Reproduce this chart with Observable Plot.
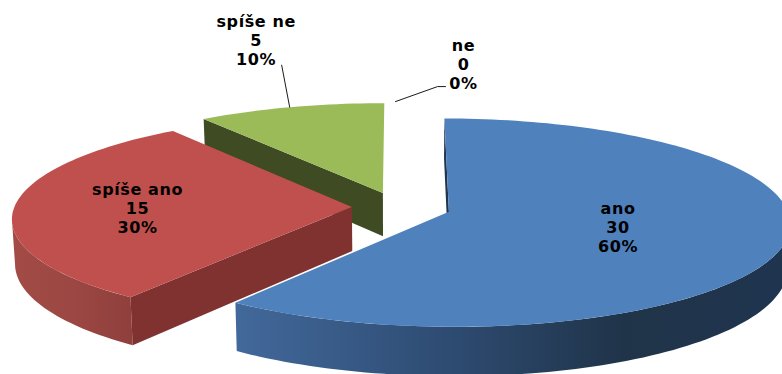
<!DOCTYPE html>
<html>
<head>
<meta charset="utf-8">
<script src="https://cdn.jsdelivr.net/npm/d3@7"></script>
<script src="https://cdn.jsdelivr.net/npm/@observablehq/plot@0.6"></script>
<style>
  html, body { margin: 0; padding: 0; background: #fff; overflow: hidden; }
  svg { display: block; }
</style>
</head>
<body>
<div id="chart"></div>
<script>
// Survey answers, clockwise from twelve o'clock
const categories = ["ano", "spíše ano", "spíše ne", "ne"];
const counts = [30, 15, 5, 0];

const W = 782, H = 374;
const centerX = 401, centerY = 206.5;   // pie centre in pixels
const radiusX = 337.5, radiusY = 102;   // pixels per plane unit
const tilt = 0.105;                     // perspective strength
const explode = 0.147;                  // slice offset in plane units
const depth = 44 / radiusY;             // extrusion in chart units
const lean = 0.992;                     // lower rim draws in towards the centre
const sliceShift = [0, 0, -3.5, 0];     // sideways pixel shift per slice

const total = d3.sum(counts);
let running = 0;
const slices = categories.map((name, i) => {
  const a0 = running / total * 360;
  running += counts[i];
  const a1 = running / total * 360;
  return {name, count: counts[i], pct: counts[i] / total, a0, a1, mid: (a0 + a1) / 2, shift: sliceShift[i] / radiusX};
});

// Project a point of the pie plane: angle in degrees clockwise from the top,
// r in radii from the slice apex. lower = true gives the underside.
function project(s, angle, r, lower = false) {
  const rad = angle * Math.PI / 180, mid = s.mid * Math.PI / 180;
  const X = explode * Math.sin(mid) + r * Math.sin(rad);
  const Z = explode * Math.cos(mid) + r * Math.cos(rad);
  const p = 1 / (1 + tilt * Z);
  return lower
    ? {x: X * p * lean + s.shift, y: Z * p - depth * p}
    : {x: X * p + s.shift, y: Z * p};
}

const arc = (s, from, to, lower) => {
  const n = Math.max(1, Math.ceil(Math.abs(to - from) / 1.5));
  return d3.range(n + 1).map(i => project(s, from + (to - from) * i / n, 1, lower));
};
const topFace = s => [project(s, 0, 0), ...arc(s, s.a0, s.a1, false)];
const radialWall = (s, a) => [
  project(s, a, 0), project(s, a, 1), project(s, a, 1, true), project(s, a, 0, true)
];

// The outer wall runs along the front of the rim only, ending at the slice's
// silhouette so its edge drops straight from the top face to the underside.
const rimWall = (s, from, to) => [...arc(s, from, to, false), ...arc(s, to, from, true)];
const angles = s => d3.range(s.a0, s.a1 + 1);
const leftmost = s => d3.least(angles(s), a => project(s, a, 1).x);
const rightmost = s => d3.greatest(angles(s), a => project(s, a, 1).x);

const face = (points, fill) => Plot.line(points, {x: "x", y: "y", fill, stroke: "none", curve: "linear"});

const [blue, red, green, none] = slices;

// Horizontal shading for the outer walls
function gradient(id, stops) {
  return `<linearGradient id="${id}" x1="0" x2="1" y1="0" y2="0">` +
    stops.map(([o, c]) => `<stop offset="${o}" stop-color="${c}"/>`).join("") +
    `</linearGradient>`;
}
const defs = () => {
  const g = document.createElementNS("http://www.w3.org/2000/svg", "defs");
  g.innerHTML =
    gradient("blueRim", [[0, "#42699b"], [0.4, "#2d4a70"], [0.7, "#203449"], [1, "#1f344f"]]) +
    gradient("redRim", [[0, "#a24b47"], [0.5, "#9c4743"], [1, "#8f3f3c"]]);
  return g;
};

// Label placement: radial factor along the slice's middle angle, plus a pixel nudge
const labelPlacement = [
  {r: 0.51, dx: 1, dy: -1.5},
  {r: 0.635, dx: 0, dy: 0.5},
  {r: 1, dx: -34.5, dy: -67},
  {r: 1, dx: 62, dy: -39}
];
const toChart = (pt, dx, dy) => ({x: pt.x + dx / radiusX, y: pt.y - dy / radiusY});
const labels = slices.map((s, i) => {
  const {r, dx, dy} = labelPlacement[i];
  return {
    ...toChart(project(s, s.mid, r), dx, dy),
    text: `${s.name}\n${s.count}\n${Math.round(s.pct * 100)}%`
  };
});

// Leader lines for the two outside labels, as pixel offsets from the rim point
const leaderOffsets = [
  {slice: green, path: [[-1, 0], [-9, -42]]},
  {slice: none, path: [[-6, -1], [36, -16], [44, -16]]}
];
const leaders = leaderOffsets.map(({slice, path}) =>
  path.map(([dx, dy]) => toChart(project(slice, slice.mid, 1), dx, dy)));

const chart = Plot.plot({
  width: W,
  height: H,
  margin: 0,
  style: {letterSpacing: "0.6px"},
  x: {domain: [-centerX / radiusX, (W - centerX) / radiusX], range: [0, W], axis: null},
  y: {domain: [(centerY - H) / radiusY, centerY / radiusY], range: [H, 0], axis: null},
  clip: true,
  marks: [
    defs,
    // Back slice first, then front slices over it
    face(radialWall(green, green.a0), "#3f4c23"),
    face(topFace(green), "#9bbb59"),
    face(rimWall(red, red.a0, leftmost(red)), "url(#redRim)"),
    face(radialWall(red, red.a0), "#7f3230"),
    face(topFace(red), "#c0504d"),
    face(rimWall(blue, rightmost(blue), blue.a1), "url(#blueRim)"),
    face(radialWall(blue, blue.a0), "#1f344f"),
    face(topFace(blue), "#4f81bd"),
    ...leaders.map(path => Plot.line(path, {x: "x", y: "y", stroke: "#1a1a1a", strokeWidth: 1, curve: "linear"})),
    Plot.text(labels, {
      x: "x", y: "y", text: "text",
      fontFamily: "DejaVu Sans", fontWeight: "bold", fontSize: 16,
      lineHeight: 1.19, fill: "#000", textAnchor: "middle"
    })
  ]
});
document.getElementById("chart").append(chart);
</script>
</body>
</html>
